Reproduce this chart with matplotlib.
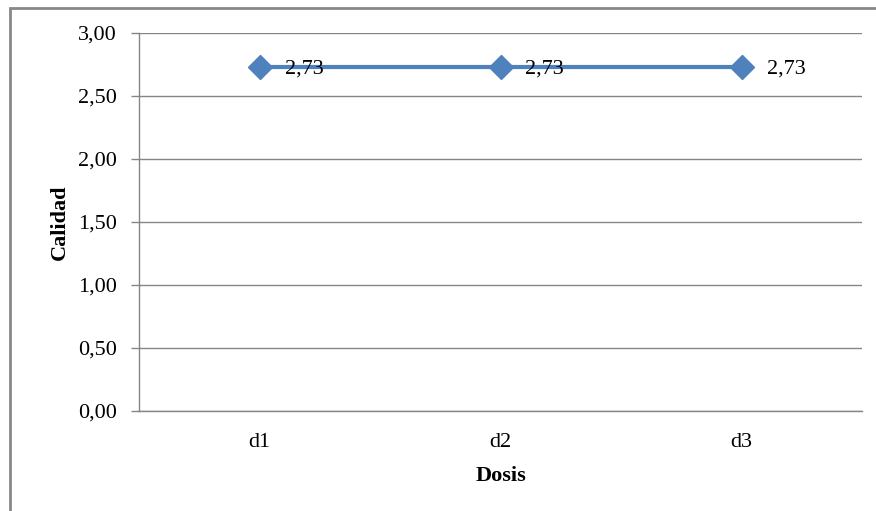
import matplotlib
matplotlib.use("Agg")
import matplotlib.pyplot as plt
from matplotlib.patches import Rectangle

categories = ["d1", "d2", "d3"]
values = [2.73, 2.73, 2.73]
yticks = [0.0, 0.5, 1.0, 1.5, 2.0, 2.5, 3.0]

plt.rcParams['font.family'] = ['Liberation Serif', 'DejaVu Serif']

W, H = 876, 511
fig = plt.figure(figsize=(W / 100, H / 100), dpi=100)
ax = fig.add_axes([139 / W, 1 - 411 / H, (862 - 139) / W, (411 - 33) / H])

x = list(range(len(categories)))
ax.plot(x, values, color="#4F81BD", lw=3, marker="D", markersize=12,
        markerfacecolor="#4F81BD", markeredgecolor="#4F81BD", zorder=3)
for xi, v in zip(x, values):
    ax.annotate(f"{v:.2f}".replace(".", ","), (xi, v), xytext=(18, -1.5),
                textcoords="offset points", ha="left", va="center",
                fontsize=16, color="black", zorder=4)

ax.set_xlim(-0.5, len(categories) - 0.5)
ax.set_ylim(0, 3)
ax.set_yticks(yticks)
ax.set_yticklabels([f"{t:.2f}".replace(".", ",") for t in yticks], fontsize=16)
ax.set_xticks(x)
ax.set_xticklabels(categories, fontsize=16)
ax.tick_params(axis="x", length=0, pad=16)
ax.tick_params(axis="y", length=6, color="#868686", width=1, pad=10)
ax.grid(axis="y", color="#868686", lw=1)
ax.set_axisbelow(True)
for s in ["top", "right"]:
    ax.spines[s].set_visible(False)
for s in ["left", "bottom"]:
    ax.spines[s].set_color("#868686")
    ax.spines[s].set_linewidth(1)

ax.set_xlabel("Dosis", fontsize=16, fontweight="bold", labelpad=10)
ax.set_ylabel("Calidad", fontsize=16, fontweight="bold", labelpad=6)

# outer chart border (clipped at right and bottom)
fig.patches.append(Rectangle((10 / W, -0.1), 1.2, (H - 8) / H + 0.1,
                             transform=fig.transFigure, fill=False,
                             edgecolor="#888888", lw=2))

fig.savefig("out.png", dpi=100)
